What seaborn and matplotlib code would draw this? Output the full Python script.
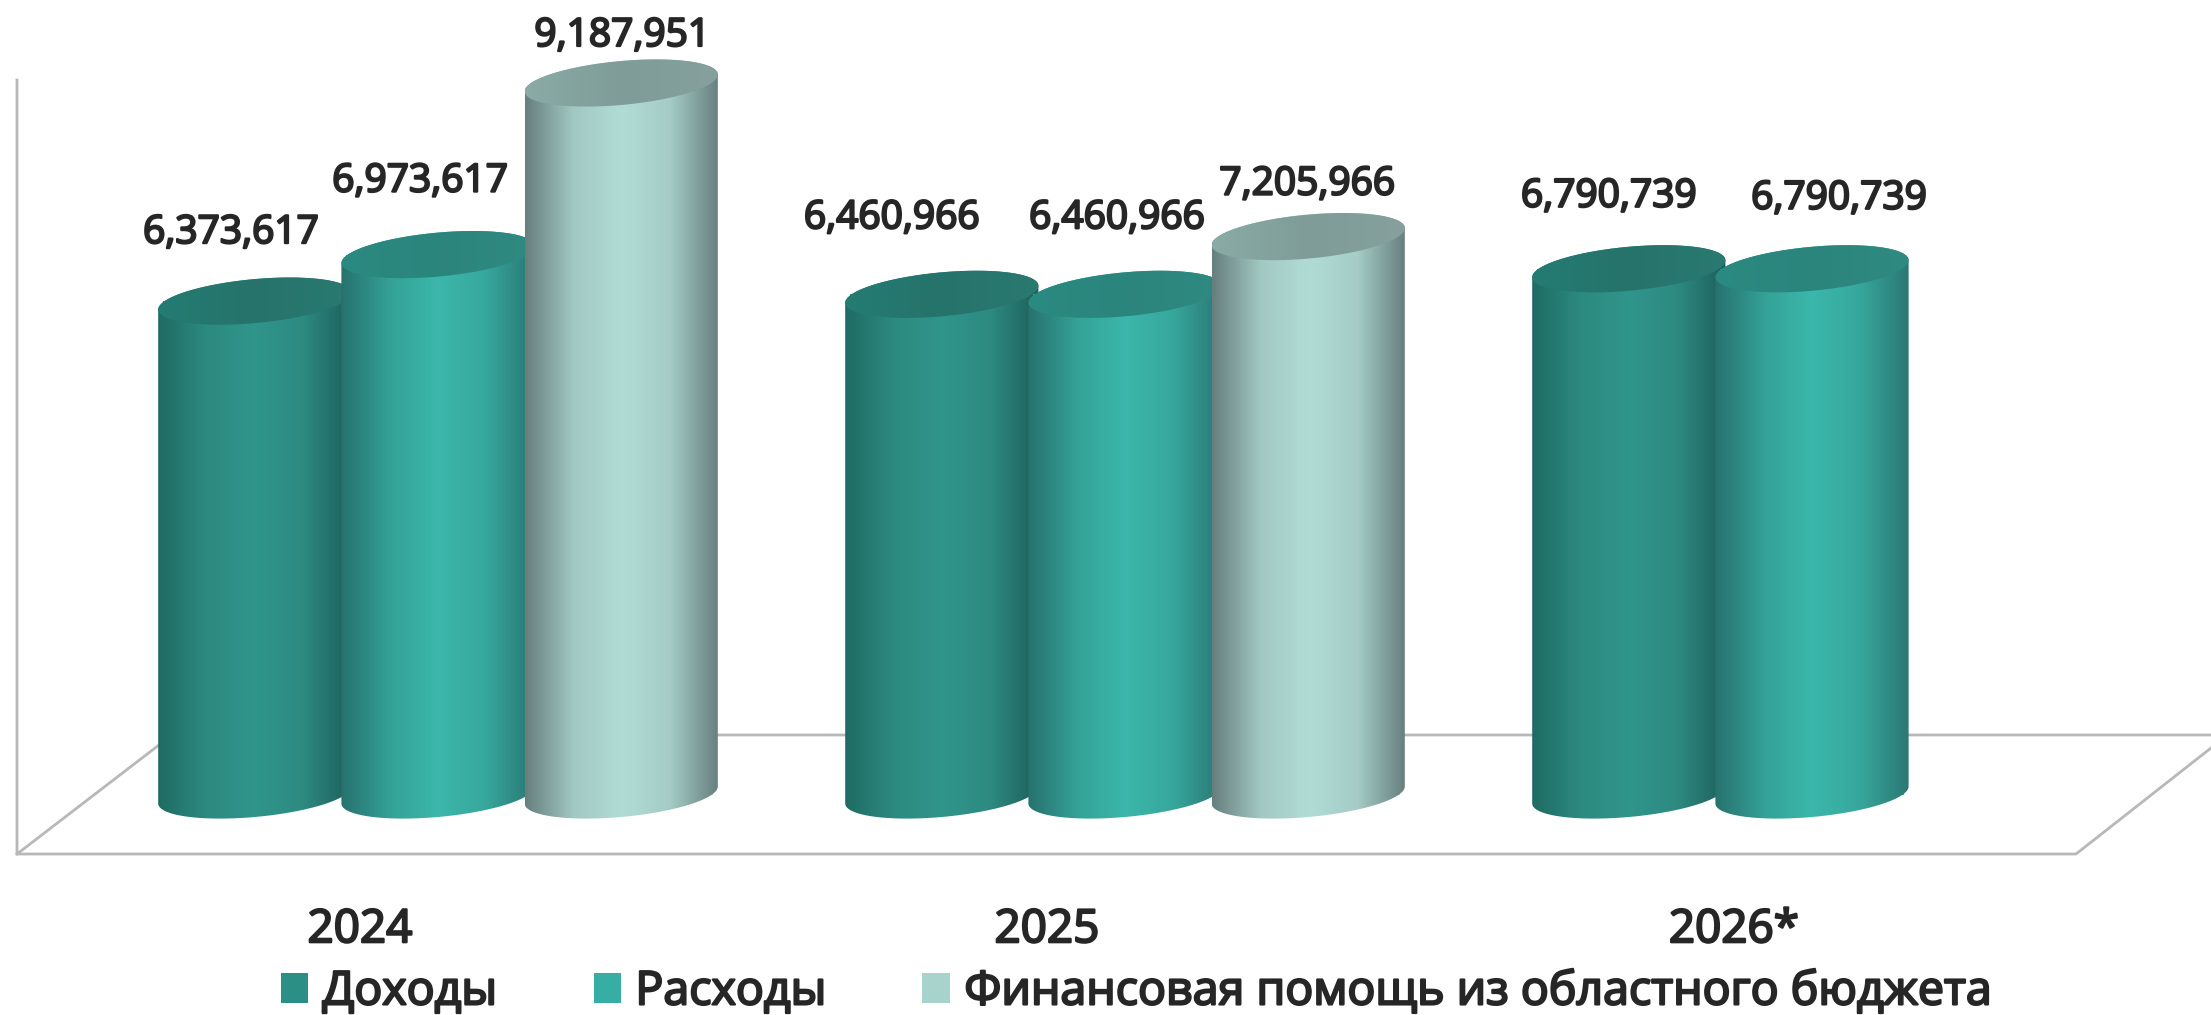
import numpy as np
import pandas as pd
import matplotlib
matplotlib.use('Agg')
import matplotlib.pyplot as plt
import matplotlib.patheffects as pe
import seaborn as sns
from matplotlib.colors import LinearSegmentedColormap
from matplotlib.lines import Line2D
from matplotlib.patches import Patch, PathPatch
from matplotlib.path import Path

# Values
years = ['2024', '2025', '2026*']
income = [6373617, 6460966, 6790739]
expenses = [6973617, 6460966, 6790739]
aid = [9187951, 7205966, None]
series_names = ['Доходы', 'Расходы', 'Финансовая помощь из областного бюджета']

# Colours
legend_colors = ['#2b8f85', '#37aea3', '#a8d3cd']
body_stops = [
    ['#1f6b63', '#2c8a80', '#30958b', '#2d8a81', '#1e5f5b'],
    ['#27716e', '#34a196', '#3cb7ab', '#37a79c', '#2a7773'],
    ['#667f7e', '#a2c8c2', '#b1dcd6', '#a5ccc6', '#667f7e'],
]
cap_stops = [
    ['#247c72', '#26736b', '#2a7a72'],
    ['#2a8a81', '#2b857d', '#2f8a82'],
    ['#8aaba6', '#7f9c98', '#86a19d'],
]
text_color = '#262626'
frame_color = '#b8b8b8'

# Layout in pixels of the 2211x1015 picture
W, H = 2211, 1015
px_per_cat = 687
px_per_val = 712 / 9187951
first_group_px = 438
baseline_px = 795
axes_bottom_px = 860
label_shift_px = -78
cyl_scale = 193 / 183
ell_b_px = 22
ell_tilt_px = 8.5

# label offsets from the middle of each cap, in pixels
label_offsets = [
    [(-24, 68), (-50, 76), (-20, 72)],
    [(-18, 73), (-8, 76), (27, 70)],
    [(1, 47), (-1, 52)],
]

df = pd.DataFrame({
    'year': years * 3,
    'series': np.repeat(series_names, 3),
    'value': income + expenses + aid,
}).dropna()

plt.rcParams['font.family'] = ['Open Sans', 'DejaVu Sans']
fig = plt.figure(figsize=(W / 100, H / 100), dpi=100)
ax = fig.add_axes([0, (H - axes_bottom_px) / H, 1, axes_bottom_px / H])
ax.patch.set_visible(False)

sns.barplot(data=df, x='year', y='value', hue='series', order=years, hue_order=series_names,
            palette=legend_colors, saturation=1, width=0.8, gap=0, legend=False, ax=ax)

t = np.linspace(0, np.pi, 80)
ell_b = ell_b_px / px_per_val
ell_tilt = ell_tilt_px / px_per_val
# regular weight with a thin outline comes closer to the heavy labels
heavy = [pe.withStroke(linewidth=1.6, foreground=text_color)]


def ellipse_half(cx, cy, a, upper=True):
    # sheared half ellipse, going left to right, left end lower
    c = -np.cos(t)
    s = np.sin(t) if upper else -np.sin(t)
    return np.column_stack([cx + a * c, cy + ell_b * s + ell_tilt * c])


def gradient(path, cmap, extent, zorder):
    im = ax.imshow(np.linspace(0, 1, 256)[None, :], cmap=cmap, extent=extent, aspect='auto',
                   interpolation='bilinear', zorder=zorder)
    im.set_clip_path(PathPatch(path, transform=ax.transData))


for i, container in enumerate(ax.containers):
    body_cmap = LinearSegmentedColormap.from_list(f'body{i}', body_stops[i])
    cap_cmap = LinearSegmentedColormap.from_list(f'cap{i}', cap_stops[i])
    for j, bar in enumerate(container):
        h = bar.get_height()
        cx = bar.get_x() + bar.get_width() / 2
        a = bar.get_width() * cyl_scale / 2
        z = 3 + i * 3
        bar.set_zorder(z)
        extent = (cx - a, cx + a, -2 * (ell_b + ell_tilt), h + 2 * (ell_b + ell_tilt))

        # side of the cylinder with rounded bottom
        lower = ellipse_half(cx, 0, a, upper=False)
        top_back = ellipse_half(cx, h, a, upper=True)[::-1]
        body = Path(np.vstack([lower, top_back, lower[:1]]), closed=True)
        gradient(body, body_cmap, extent, z + 0.5)

        # top cap
        cap = Path(np.vstack([ellipse_half(cx, h, a, upper=True),
                              ellipse_half(cx, h, a, upper=False)[::-1]]), closed=True)
        gradient(cap, cap_cmap, extent, z + 1)

        off = label_offsets[i][j]
        ax.annotate(f'{h:,.0f}', xy=(cx, h), xytext=off, textcoords='offset pixels',
                    ha='center', va='center', fontsize=28, color=text_color, zorder=20,
                    path_effects=heavy)

# imshow resets the limits, so set them after the cylinders
ax.set_xlim(-first_group_px / px_per_cat, (W - first_group_px) / px_per_cat)
ax.set_ylim((baseline_px - axes_bottom_px) / px_per_val, baseline_px / px_per_val)

# category labels sit to the left of the group centres
ax.set_xticks(np.arange(len(years)) + label_shift_px / px_per_cat)
ax.set_xticklabels(years, fontsize=33, color=text_color, path_effects=heavy)
ax.tick_params(axis='x', length=0, pad=34)
ax.set_yticks([])
ax.set_xlabel('')
ax.set_ylabel('')
sns.despine(ax=ax, left=True, bottom=True)

# floor and wall of the 3D frame
frame = [
    ([17, 17, 2076, 2211], [80, 854, 854, 748]),
    ([17, 172, 2211], [854, 735, 735]),
]
for xs, ys in frame:
    fig.add_artist(Line2D(np.array(xs) / W, 1 - np.array(ys) / H, transform=fig.transFigure,
                          color=frame_color, lw=2, zorder=-1, solid_joinstyle='miter'))

handles = [Patch(facecolor=c, edgecolor='none') for c in legend_colors]
leg = fig.legend(handles, series_names, loc='lower left', bbox_to_anchor=(248 / W, -33 / H),
                 ncol=3, frameon=False, handlelength=0.6, handleheight=0.6,
                 handletextpad=0.3, columnspacing=2.07, borderpad=0.2,
                 prop={'size': 33.5})
for text in leg.get_texts():
    text.set_color(text_color)
    text.set_path_effects(heavy)

fig.savefig('out.png', dpi=100)
